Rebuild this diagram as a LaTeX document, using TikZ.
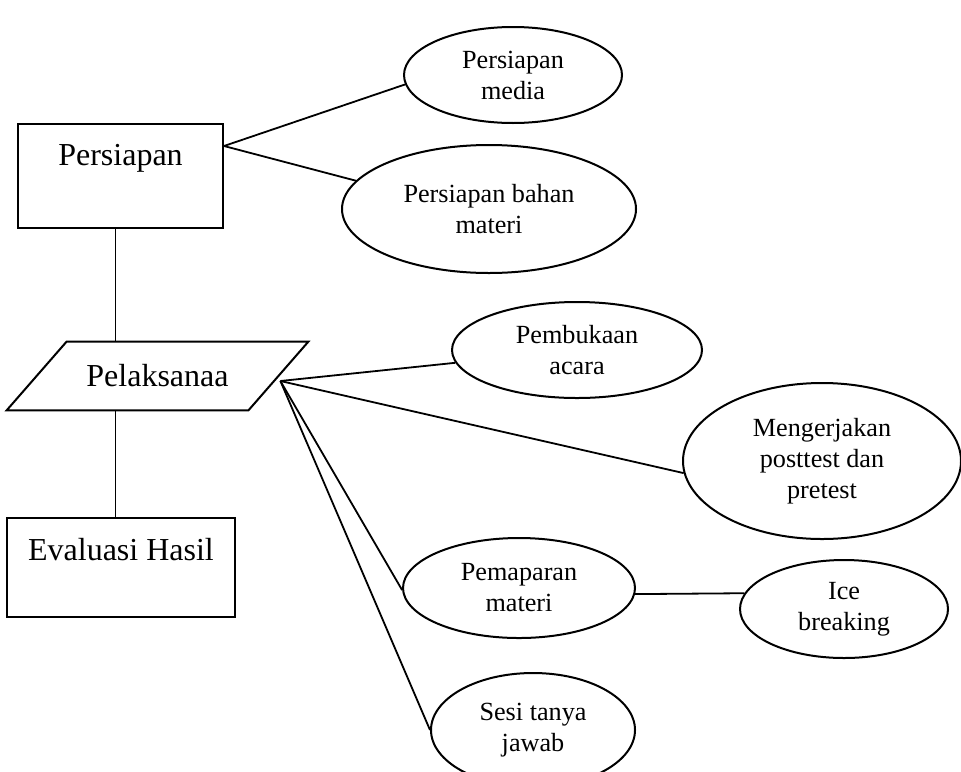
\documentclass[tikz,border=0pt]{standalone}
\usepackage{fontspec}
\setmainfont{Liberation Serif}
\usetikzlibrary{shapes.geometric}
\usetikzlibrary{calc}
\tikzset{box/.style = {draw, rectangle, inner sep = 0, line width = 1pt,
                       font = \fontsize{16}{19}\selectfont}}
\tikzset{para/.style = {rectangle, inner sep = 0, font = \fontsize{16}{19}\selectfont}}
\tikzset{ell/.style = {draw, ellipse, inner sep = 0, line width = 1pt, align = center,
                       font = \fontsize{13.1}{15.5}\selectfont}}
\tikzset{link/.style = {line width = 0.9pt}}

\begin{document}
\begin{tikzpicture}[x = 0.5pt, y = -0.5pt]
    \useasboundingbox (0, 0) rectangle (961, 771);
    \clip (0, 0) rectangle (961, 771);

    % left column
    \node (prep) at (120.5, 176) [box, minimum width = 102.5pt,
        text height = 20.5pt, text depth = 31.5pt] {Persiapan};
    \node (pel) at (157.5, 376) [para, minimum width = 120.5pt, minimum height = 34pt] {Pelaksanaa};
    \draw [line width = 1pt] ($(pel.south west) + (-30, 0)$) -- ($(pel.south east) + (-30, 0)$)
        -- ($(pel.north east) + (30, 0)$) -- ($(pel.north west) + (30, 0)$) -- cycle;
    \node (eval) at (121, 567.5) [box, minimum width = 114pt,
        text height = 21pt, text depth = 28.5pt] {Evaluasi Hasil};

    % ellipses
    \node (media) at (513, 75) [ell, minimum width = 109pt, minimum height = 48pt] {Persiapan\\media};
    \node (bahan) at (489, 209) [ell, minimum width = 147pt, minimum height = 64pt] {Persiapan bahan\\materi};
    \node (buka) at (577, 350) [ell, minimum width = 125pt, minimum height = 48pt] {Pembukaan\\acara};
    \node (kerja) at (822, 461) [ell, minimum width = 139pt, minimum height = 78pt] {Mengerjakan\\posttest dan\\pretest};
    \node (papar) at (519, 588) [ell, minimum width = 116pt, minimum height = 50pt] {Pemaparan\\materi};
    \node (ice) at (844, 609) [ell, minimum width = 104pt, minimum height = 49pt] {Ice\\breaking};
    \node (sesi) at (533, 730) [ell, minimum width = 102pt, minimum height = 57pt] {Sesi tanya\\jawab};

    \coordinate (prepout) at ($(prep.north east) + (0, 23)$);
    \coordinate (hub) at ($(pel.east) + (2, 5)$);
    \coordinate (stem) at ($(prep.south) + (-5, 0)$);

    \draw [link] (stem) -- (stem |- pel.north);
    \draw [link] (stem |- pel.south) -- (stem |- eval.north);

    \draw [link] (prepout) -- (media.185);
    \draw [link] (prepout) -- (bahan.168);

    \draw [link] (hub) -- (buka.186);
    \draw [link] (hub) -- (kerja.185);
    \draw [link] (hub) -- (papar.181);
    \draw [link] (hub) -- (sesi.180);
    \draw [link] (papar.357) -- (ice.171);
\end{tikzpicture}
\end{document}
